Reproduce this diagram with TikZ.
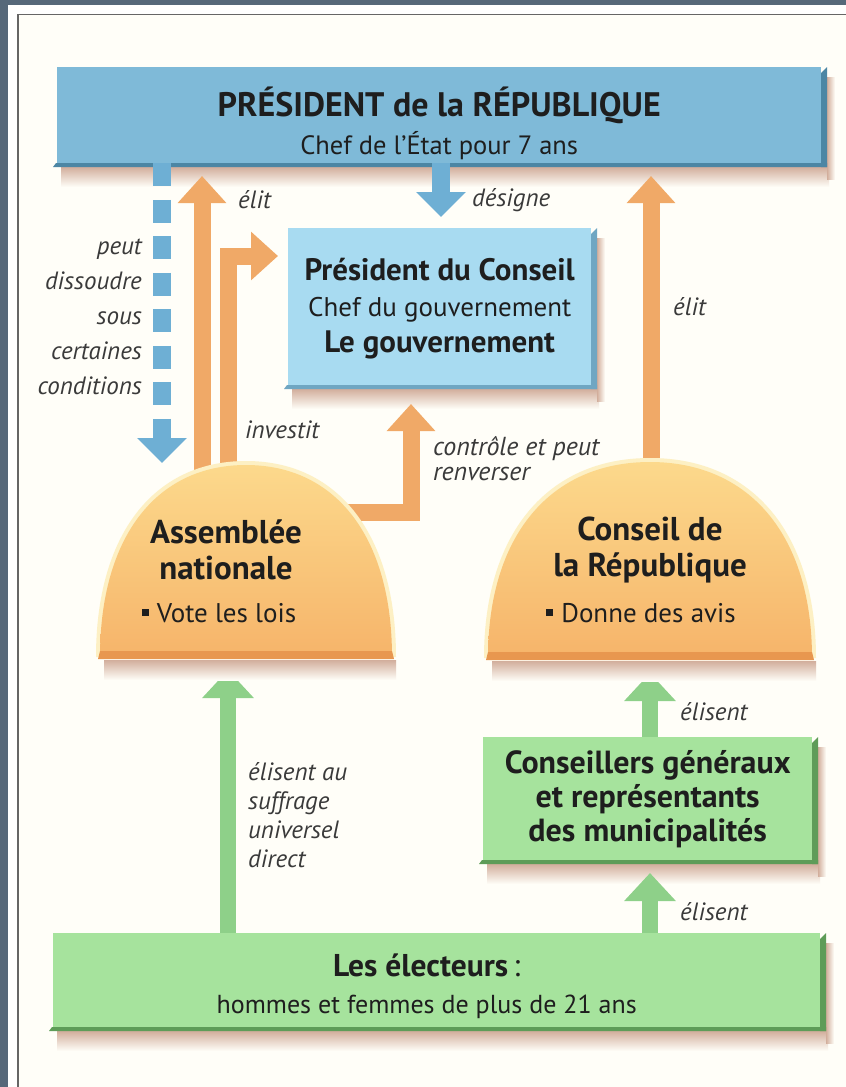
\documentclass[tikz,border=0pt]{standalone}
\usepackage{fontspec}
\setmainfont{PT Sans}
\usetikzlibrary{arrows.meta}
\definecolor{framec}{HTML}{56687A}
\definecolor{paper}{HTML}{FFFEF8}
\definecolor{presfill}{HTML}{7FBAD8}
\definecolor{presdark}{HTML}{4C86A4}
\definecolor{govfill}{HTML}{A8DBF1}
\definecolor{govdark}{HTML}{6FA6C2}
\definecolor{grfill}{HTML}{A6E39D}
\definecolor{grdark}{HTML}{5E9C58}
\definecolor{orarrow}{HTML}{F0A967}
\definecolor{blarrow}{HTML}{6EAFD4}
\definecolor{grarrow}{HTML}{8ED089}
\definecolor{dometop}{HTML}{FCD98C}
\definecolor{domebot}{HTML}{F6B46A}
\definecolor{domeedge}{HTML}{E8974F}
\definecolor{domehalo}{HTML}{FDF0C4}
\definecolor{shadowc}{HTML}{D2AE9C}
\definecolor{ink}{HTML}{1E1E1E}
\definecolor{labelink}{HTML}{3A3A3A}
\newcommand{\fsz}[2]{\fontsize{#1}{#2}\selectfont}
\newcommand{\sqbullet}{\rule[0.22em]{0.26em}{0.26em}\hspace{0.3em}}
% 3D edge and shadow under a box: x1 y1 x2 y2 darkcolour
\newcommand{\threedbox}[5]{%
  \shade[top color=shadowc, bottom color=paper] (#1+4,#4+4) rectangle (#3+8,#4+24);
  \shade[left color=shadowc, right color=paper] (#3+6,#2+10) rectangle (#3+14,#4+16);
  \fill[#5] (#3,#2+6) -- (#3+6,#2) -- (#3+6,#4+4) -- (#3,#4+4) -- cycle;
  \fill[#5] (#1-1,#4) -- (#3+6,#4) -- (#3+6,#4+4) -- (#1-4,#4+4) -- cycle;
}
\begin{document}
\begin{tikzpicture}[x=1pt,y=-1pt,
  lab/.style={font=\itshape\fsz{25}{35}, text=labelink, inner sep=0pt},
  boxn/.style={anchor=north west, inner sep=0pt, draw=none},
  boxtext/.style={text=ink, align=center, inner sep=0pt},
  oarrow/.style={draw=orarrow, line width=17pt, line join=miter, -{Triangle[width=47pt,length=27pt]}},
  barrow/.style={draw=blarrow, line width=18pt, -{Triangle[width=48pt,length=25pt]}},
  garrow/.style={draw=grarrow, line width=16pt, -{Triangle[width=50pt,length=28pt]}},
]
\useasboundingbox (0,0) rectangle (846,1087);
% page and frame
\fill[framec] (0,0) rectangle (846,1087);
\fill[white] (8,5) rectangle (846,1087);
\fill[paper] (19,15) rectangle (846,1087);
\draw[gray!80!black, line width=1.5pt] (18,1087) -- (18,14.5) -- (846,14.5);

% ---------- boxes ----------
\threedbox{57}{67}{821}{163}{presdark}
\node[boxn, fill=presfill, minimum width=764pt, minimum height=96pt,
  label={[name=prt, boxtext, yshift=-8pt, font=\bfseries\fsz{34}{38}]center:{PRÉSIDENT de la RÉPUBLIQUE\\
  {\mdseries\fsz{26.5}{38}Chef de l’État pour 7 ans}}}] (pr) at (57,67) {};

\threedbox{288}{228}{591}{385}{govdark}
\node[boxn, fill=govfill, minimum width=303pt, minimum height=157pt,
  label={[name=govt, boxtext, yshift=-2pt, font=\bfseries\fsz{31}{36}]center:{Président du Conseil\\
  {\mdseries\fsz{27}{36}Chef du gouvernement}\\ Le gouvernement}}] (gov) at (288,228) {};

\threedbox{483}{737}{812}{860}{grdark}
\node[boxn, fill=grfill, minimum width=329pt, minimum height=123pt,
  label={[name=cgt, boxtext, font=\bfseries\fsz{32}{34}]center:{Conseillers généraux\\ et représentants\\ des municipalités}}] (cg) at (483,737) {};

\threedbox{53}{933}{820}{1027}{grdark}
\node[boxn, fill=grfill, minimum width=767pt, minimum height=94pt,
  label={[name=elt, boxtext, yshift=-6pt, xshift=-10pt, font=\fsz{31.5}{37}]center:{\textbf{Les électeurs}\,:\\
  {\fsz{26}{37}hommes et femmes de plus de 21 ans}}}] (el) at (53,933) {};

% ---------- connector end points ----------
\coordinate (dissolve) at (162,463);
\coordinate (dsgtip) at (441,217);
\coordinate (anelit) at (202,475);
\coordinate (elit1) at (202,176);
\coordinate (aninv) at (228,475);
\coordinate (invtip) at (278,256);
\coordinate (anctl) at (325,512);
\coordinate (ctltip) at (411,404);
\coordinate (crelit) at (651,472);
\coordinate (elit2) at (651,176);
\coordinate (gl) at (228,670);
\coordinate (gr1) at (650,673);
\coordinate (gr2) at (650,873);

% ---------- connectors ----------
\draw[barrow, dash pattern=on 23pt off 13.5pt] (pr.south -| dissolve) -- (dissolve);
\draw[barrow] (pr.south -| dsgtip) -- (dsgtip);
\draw[oarrow] (anelit) -- (elit1);
\draw[oarrow] (aninv) |- (invtip);
\draw[oarrow] (anctl) -| (ctltip);
\draw[oarrow] (crelit) -- (elit2);
\draw[garrow] (el.north -| gl) -- (gl);
\draw[garrow] (cg.north -| gr1) -- (gr1);
\draw[garrow] (el.north -| gr2) -- (gr2);

% ---------- domes ----------
\shade[top color=shadowc, bottom color=paper] (104,660) rectangle (396,680);
\fill[domehalo] (96,657) .. controls (96,535.5) and (153,461) .. (246,461) .. controls (339,461) and (396,535.5) .. (396,657) -- cycle;
\shade[top color=dometop, bottom color=domebot] (100,657) .. controls (100,538) and (155.5,465) .. (246,465) .. controls (336.5,465) and (392,538) .. (392,657) -- cycle;
\fill[domeedge] (100,651) -- (392,651) -- (394,659) -- (98,659) -- cycle;

\shade[top color=shadowc, bottom color=paper] (492,661) rectangle (816,681);
\fill[domehalo] (484,658) .. controls (484,534) and (547,458) .. (650,458) .. controls (753,458) and (816,534) .. (816,658) -- cycle;
\shade[top color=dometop, bottom color=domebot] (488,658) .. controls (488,536.5) and (549.6,462) .. (650,462) .. controls (750.4,462) and (812,536.5) .. (812,658) -- cycle;
\fill[domeedge] (488,652) -- (812,652) -- (814,660) -- (486,660) -- cycle;

\node[boxtext, font=\bfseries\fsz{33}{36}] (an) at (226,550) {Assemblée\\nationale};
\node[boxtext, font=\fsz{27}{30}] (anb) at (219,613) {\sqbullet Vote les lois};
\node[boxtext, font=\bfseries\fsz{33}{36}] (cr) at (650,550) {Conseil de\\la République};
\node[boxtext, font=\fsz{27}{30}] (crb) at (641,613) {\sqbullet Donne des avis};

% ---------- labels ----------
\node[lab, anchor=west] (lelit1) at (238,200) {élit};
\node[lab, anchor=east, align=right] (ldiss) at (142,317) {peut\\dissoudre\\sous\\certaines\\conditions};
\node[lab, anchor=west] (linv) at (245,430) {investit};
\node[lab, anchor=west] (ldsg) at (472,200) {désigne};
\node[lab, anchor=west, align=left, font=\itshape\fsz{26}{25}] (lctl) at (433,459) {contrôle et peut\\renverser};
\node[lab, anchor=west] (lelit2) at (673,307) {élit};
\node[lab, anchor=west] (lels1) at (680,712) {élisent};
\node[lab, anchor=west] (lels2) at (680,912) {élisent};
\node[lab, anchor=west, align=left, font=\itshape\fsz{25}{29}] (lsuf) at (248,815) {élisent au\\suffrage\\universel\\direct};
\end{tikzpicture}
\end{document}
